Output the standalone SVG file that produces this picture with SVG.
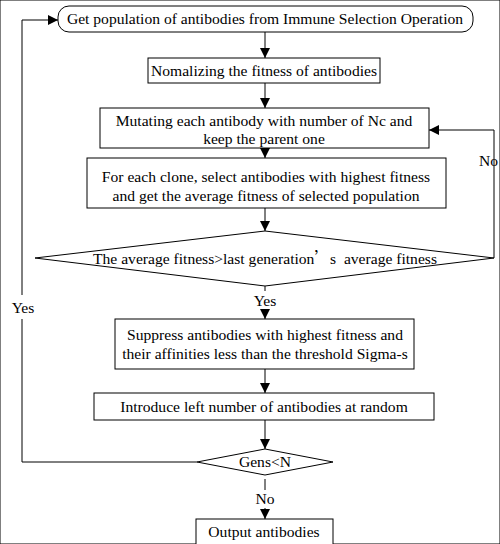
<svg xmlns="http://www.w3.org/2000/svg" width="500" height="544" viewBox="0 0 500 544">
<defs>
<marker id="ah" viewBox="0 0 10 10" refX="10" refY="5" markerWidth="10" markerHeight="10" markerUnits="userSpaceOnUse" orient="auto">
<path d="M0,0 L10,5 L0,10 z" fill="#000"/>
</marker>
</defs>
<style>
rect, polygon { fill: #fff; stroke: #000; stroke-width: 1; }
text { font-family: "Liberation Serif", "DejaVu Serif", serif; font-size: 15.6px; fill: #000; text-anchor: middle; }
.cjk { font-family: "Noto Sans CJK SC", sans-serif; }
.c { fill: none; stroke: #000; stroke-width: 1; }
</style>
<rect width="500" height="544" fill="#fff" stroke="none"/>
<g id="connectors">
<line class="c" x1="265" y1="32" x2="265" y2="58" marker-end="url(#ah)"/>
<line class="c" x1="265" y1="83" x2="265" y2="108" marker-end="url(#ah)"/>
<line class="c" x1="265" y1="148" x2="265" y2="158" marker-end="url(#ah)"/>
<line class="c" x1="265" y1="208" x2="265" y2="231" marker-end="url(#ah)"/>
<polyline class="c" points="494,258 494,130 429,130" marker-end="url(#ah)"/>
<text x="479" y="166" style="text-anchor:start">No</text>
<line class="c" x1="265" y1="286" x2="265" y2="291"/>
<text x="265" y="306">Yes</text>
<line class="c" x1="265" y1="309" x2="265" y2="319" marker-end="url(#ah)"/>
<line class="c" x1="265" y1="369" x2="265" y2="393" marker-end="url(#ah)"/>
<line class="c" x1="265" y1="420" x2="265" y2="449" marker-end="url(#ah)"/>
<polyline class="c" points="197,462 22,462 22,319"/>
<text x="23" y="313">Yes</text>
<polyline class="c" points="22,295 22,20 58,20" marker-end="url(#ah)"/>
<line class="c" x1="265" y1="479" x2="265" y2="490"/>
<text x="265" y="504">No</text>
<line class="c" x1="265" y1="508" x2="265" y2="519" marker-end="url(#ah)"/>
</g>
<g id="n1">
<rect x="58" y="6" width="415" height="26" rx="11" ry="11"/>
<text x="265" y="24">Get population of antibodies from Immune Selection Operation</text>
</g>
<g id="n2">
<rect x="148" y="58" width="232" height="25"/>
<text x="264" y="76">Nomalizing the fitness of antibodies</text>
</g>
<g id="n3">
<rect x="100" y="108" width="329" height="40"/>
<text x="264" y="126">Mutating each antibody with number of Nc and</text>
<text x="264" y="144">keep the parent one</text>
</g>
<g id="n4">
<rect x="87" y="158" width="359" height="50"/>
<text x="266" y="182">For each clone, select antibodies with highest fitness</text>
<text x="266" y="201">and get the average fitness of selected population</text>
</g>
<g id="n5">
<polygon points="265,231 494,258 265,286 35,258"/>
<text x="265" y="264" xml:space="preserve">The average fitness&gt;last generation<tspan class="cjk">’</tspan>s  average fitness</text>
</g>
<g id="n6">
<rect x="115" y="319" width="299" height="50"/>
<text x="265" y="340">Suppress antibodies with highest fitness and</text>
<text x="265" y="359">their affinities less than the threshold Sigma-s</text>
</g>
<g id="n7">
<rect x="94" y="393" width="340" height="27"/>
<text x="264" y="412">Introduce left number of antibodies at random</text>
</g>
<g id="n8">
<polygon points="265,449 333,462 265,475 197,462"/>
<text x="265" y="467">Gens&lt;N</text>
</g>
<g id="n9">
<rect x="196" y="519" width="137" height="30"/>
<text x="264" y="537">Output antibodies</text>
</g>
</svg>
